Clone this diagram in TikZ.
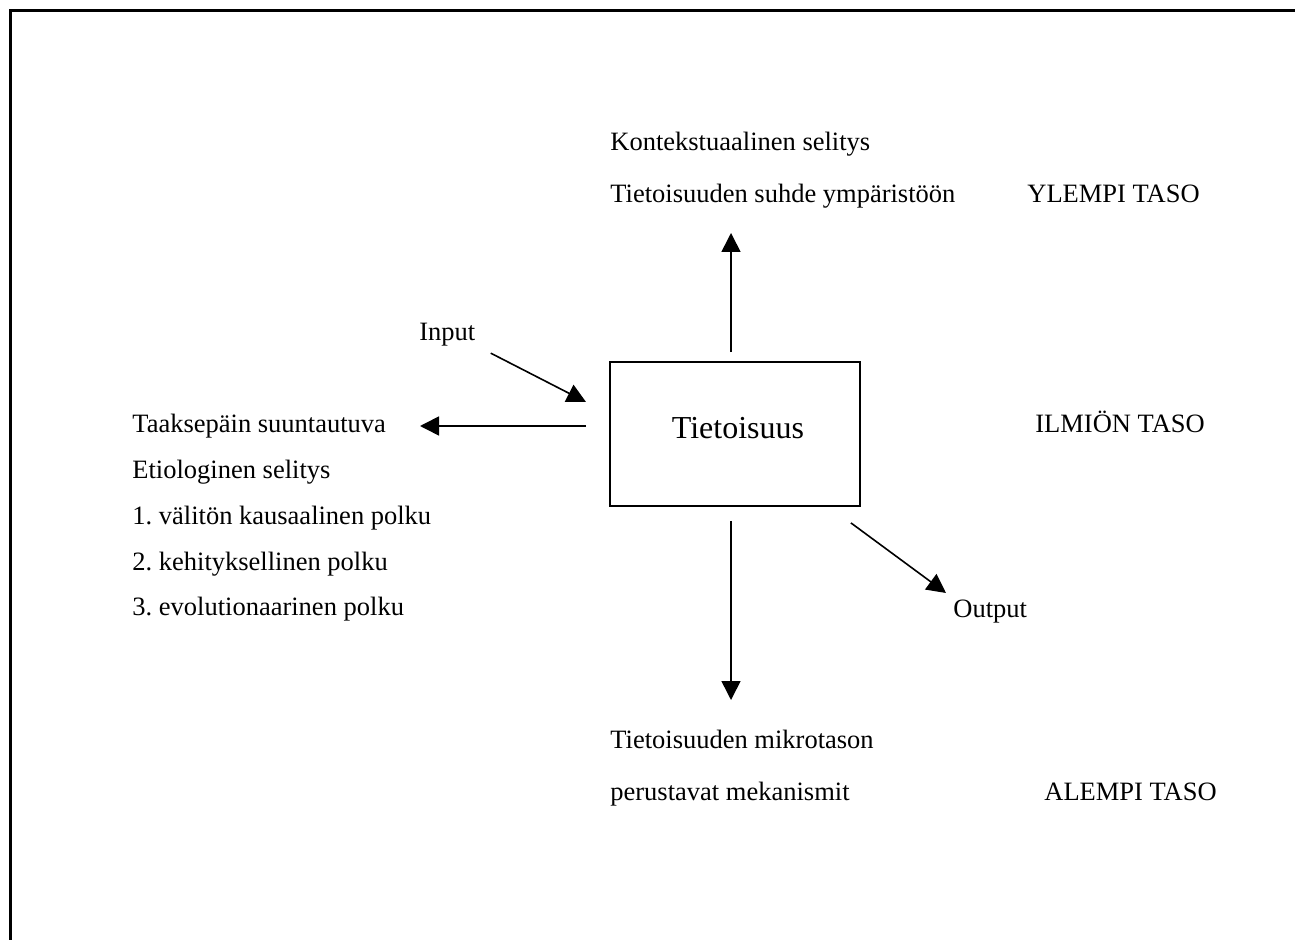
\documentclass[tikz,border=0pt]{standalone}
\usepackage{fontspec}
\setmainfont{Liberation Serif}
\frenchspacing
\usetikzlibrary{arrows.meta, positioning}

\begin{document}
\begin{tikzpicture}[
    x=0.5pt, y=-0.5pt,
    every node/.style={font=\fontsize{13.25}{15}\selectfont, inner sep=0pt, anchor=base west},
    arr/.style={line width=0.8pt, -{Triangle[length=9.5pt, width=9.5pt]}},
    frame/.style={line width=1.5pt},
    box/.style={draw, line width=0.9pt, anchor=center, minimum width=125pt, minimum height=72pt},
    boxtext/.style={font=\fontsize{16}{19}\selectfont, anchor=base}
]
\useasboundingbox (0,0) rectangle (1295,940);
% Frame
\draw[frame] (10,940) -- (10,11) -- (1295,11);

% Centre box
\node[box] (tietoisuus) at (735,434) {};
\node[boxtext] (tietoisuusteksti) at (738,439) {Tietoisuus};

% Upper level
\node (kontekstuaalinen) at (610,151) {Kontekstuaalinen selitys};
\node (ymparisto) at (610,203) {Tietoisuuden suhde ympäristöön};
\node (ylempi) at (1027,203) {YLEMPI TASO};
\coordinate (ylos) at (731,233);
\draw[arr] ([xshift=-2pt, yshift=4.5pt]tietoisuus.north) -- (ylos);

% Phenomenon level
\node (input) at (419,341) {Input};
\coordinate (sisaan) at (586,402);
\draw[arr] ([xshift=7.5pt, yshift=-9pt]input.east) -- (sisaan);
\node (ilmion) at (1035,433) {ILMIÖN TASO};
\coordinate (vasen) at (420,426);
\draw[arr] ([xshift=-11.5pt, yshift=4pt]tietoisuus.west) -- (vasen);
\foreach \y/\nimi/\teksti in {433/taaksepain/Taaksepäin suuntautuva,
                              479/etiologinen/Etiologinen selitys,
                              524/valiton/1. välitön kausaalinen polku,
                              570/kehitys/2. kehityksellinen polku,
                              615/evoluutio/3. evolutionaarinen polku} {
    \node (\nimi) at (132,\y) {\teksti};
}
\node (output) at (953,617) {Output};
\coordinate (ulos) at (946,593);
\draw[arr] ([xshift=-5pt, yshift=-8pt]tietoisuus.south east) -- (ulos);

% Lower level
\coordinate (alas) at (731,700);
\draw[arr] ([xshift=-2pt, yshift=-7pt]tietoisuus.south) -- (alas);
\node (mikrotaso) at (610,748) {Tietoisuuden mikrotason};
\node (mekanismit) at (610,800) {perustavat mekanismit};
\node (alempi) at (1044,800) {ALEMPI TASO};
\end{tikzpicture}
\end{document}
